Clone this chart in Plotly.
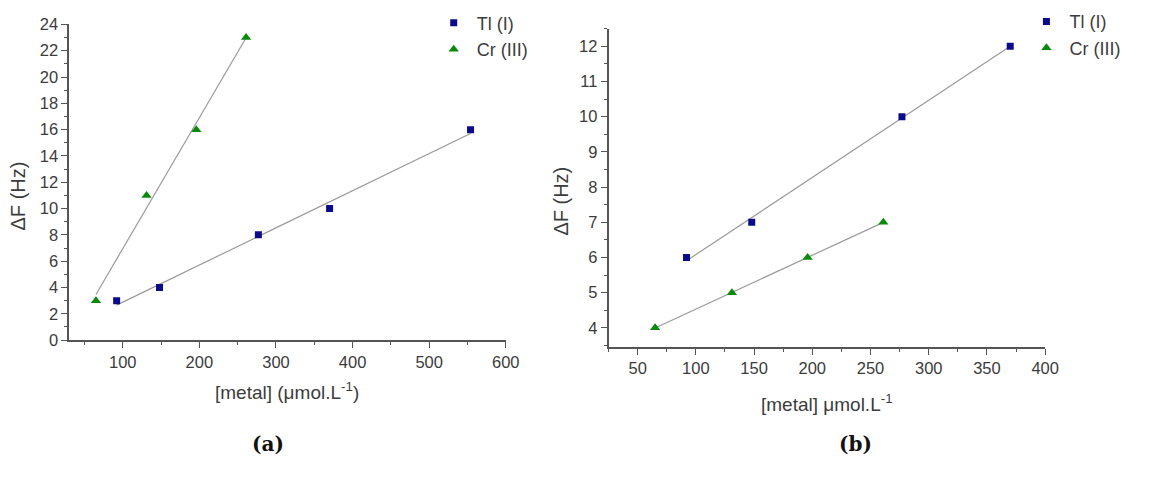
import numpy as np
import plotly.graph_objects as go

# ---------------- data ----------------
# Panel (a)
a_tl_x = [92, 148, 277, 370, 554]
a_tl_y = [3, 4, 8, 10, 16]
a_cr_x = [65, 131, 196, 261]
a_cr_y = [3, 11, 16, 23]
# Panel (b)
b_tl_x = [92, 148, 277, 370]
b_tl_y = [6, 7, 10, 12]
b_cr_x = [65, 131, 196, 261]
b_cr_y = [4, 5, 6, 7]

series_names = ["Tl (I)", "Cr (III)"]
panel_labels = ["(a)", "(b)"]
y_title = "\u0394F (Hz)"
x_title_a = "[metal] (\u03bcmol.L<sup>-1</sup>)"
x_title_b = "[metal] \u03bcmol.L<sup>-1</sup>"

# ---------------- style ----------------
W, H = 1153, 480
TL_COLOR = "#0a0a8a"
CR_COLOR = "#0a8a0a"
FIT_COLOR = "#9a9a9a"
AX_COLOR = "#555555"
TXT = "#3c3c3c"
FONT = "Liberation Sans, Arial, sans-serif"
TICK_SIZE = 16.5
TITLE_SIZE = 19
YTITLE_SIZE = 20
LEG_SIZE = 18


def px_x(p):
    return p / W


def px_y(p):
    return 1 - p / H


fig = go.Figure()


def add_panel(tx, ty, cx, cy, xa, ya, legend):
    for xs, ys in ((tx, ty), (cx, cy)):
        k, b = np.polyfit(xs, ys, 1)
        xf = np.array([min(xs), max(xs)], dtype=float)
        fig.add_trace(go.Scatter(x=xf, y=k * xf + b, mode="lines",
                                 line=dict(color=FIT_COLOR, width=1.2),
                                 xaxis=xa, yaxis=ya, showlegend=False,
                                 hoverinfo="skip"))
    fig.add_trace(go.Scatter(x=tx, y=ty, mode="markers", name=series_names[0],
                             marker=dict(symbol="square", size=7, color=TL_COLOR),
                             xaxis=xa, yaxis=ya, legend=legend))
    fig.add_trace(go.Scatter(x=cx, y=cy, mode="markers", name=series_names[1],
                             marker=dict(symbol="triangle-up", size=9, color=CR_COLOR),
                             xaxis=xa, yaxis=ya, legend=legend))


add_panel(a_tl_x, a_tl_y, a_cr_x, a_cr_y, "x", "y", "legend")
add_panel(b_tl_x, b_tl_y, b_cr_x, b_cr_y, "x2", "y2", "legend2")

axis_common = dict(showline=True, linecolor=AX_COLOR, linewidth=1.5,
                   ticks="outside", ticklen=6, tickwidth=1.3, tickcolor=AX_COLOR,
                   showgrid=False, zeroline=False, mirror=False,
                   tickfont=dict(family=FONT, size=TICK_SIZE, color=TXT))

leg_common = dict(xanchor="left", yanchor="top", bgcolor="rgba(0,0,0,0)",
                  borderwidth=0, itemwidth=36,
                  font=dict(family=FONT, size=LEG_SIZE, color=TXT))

fig.update_layout(
    width=W, height=H,
    margin=dict(l=0, r=0, t=0, b=0),
    paper_bgcolor="white", plot_bgcolor="white",
    font=dict(family=FONT, color=TXT),
    xaxis=dict(domain=[px_x(70), px_x(512)], range=[30, 600], dtick=100, tick0=0,
               anchor="y",
               minor=dict(dtick=50, tick0=0, ticks="outside", ticklen=3,
                          tickcolor=AX_COLOR, showgrid=False),
               **axis_common),
    yaxis=dict(domain=[px_y(344), px_y(16)], range=[0, 24], dtick=2, tick0=0,
               anchor="x",
               minor=dict(dtick=1, tick0=0, ticks="outside", ticklen=3,
                          tickcolor=AX_COLOR, showgrid=False),
               **axis_common),
    xaxis2=dict(domain=[px_x(616), px_x(1058)], range=[25, 400], dtick=50, tick0=0,
                anchor="y2",
                minor=dict(dtick=25, tick0=0, ticks="outside", ticklen=3,
                           tickcolor=AX_COLOR, showgrid=False),
                **axis_common),
    yaxis2=dict(domain=[px_y(351), px_y(20.5)], range=[3.46, 12.5], dtick=1, tick0=0,
                anchor="x2",
                minor=dict(dtick=0.5, tick0=0, ticks="outside", ticklen=3,
                           tickcolor=AX_COLOR, showgrid=False),
                **axis_common),
    legend=dict(x=px_x(436), y=px_y(-4.5), **leg_common),
    legend2=dict(x=px_x(1036), y=px_y(-6), **leg_common),
)

annots = [
    dict(text=y_title, x=px_x(18), y=px_y(194), textangle=-90, size=YTITLE_SIZE),
    dict(text=y_title, x=px_x(567), y=px_y(200), textangle=-90, size=YTITLE_SIZE),
    dict(text=x_title_a, x=px_x(291), y=px_y(397), textangle=0, size=TITLE_SIZE),
    dict(text=x_title_b, x=px_x(837), y=px_y(409), textangle=0, size=TITLE_SIZE),
]
for a in annots:
    fig.add_annotation(text=a["text"], x=a["x"], y=a["y"], xref="paper", yref="paper",
                       xanchor="center", yanchor="middle", showarrow=False,
                       textangle=a["textangle"],
                       font=dict(family=FONT, size=a["size"], color=TXT))

for lbl, cx in zip(panel_labels, (271, 866)):
    fig.add_annotation(text="<b>" + lbl + "</b>", x=px_x(cx), y=px_y(452),
                       xref="paper", yref="paper", xanchor="center", yanchor="middle",
                       showarrow=False,
                       font=dict(family="DejaVu Serif, Liberation Serif, serif",
                                 size=20, color="#111111"))

fig.write_html("out.html")
